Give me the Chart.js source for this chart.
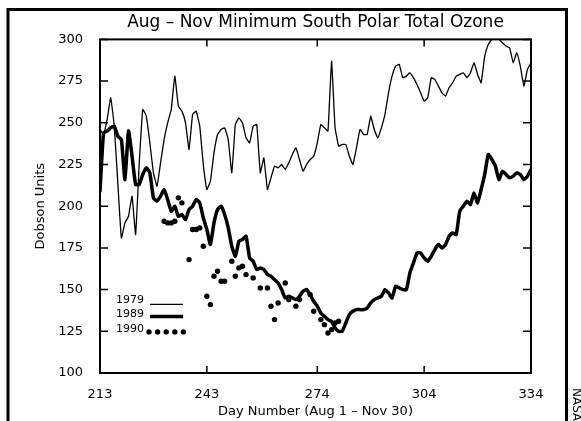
<!DOCTYPE html>
<html>
<head>
<meta charset="utf-8">
<script src="https://cdn.jsdelivr.net/npm/chart.js@4.4.1/dist/chart.umd.min.js"></script>
<style>
  html, body { margin: 0; padding: 0; background: #fff; }
</style>
</head>
<body>
<canvas id="ozone" width="581" height="421"></canvas>
<script>
var days = [
  213, 214, 215, 216, 217, 218, 219, 220, 221, 222, 223, 224, 225, 226, 227, 228, 229, 230, 231, 232,
  233, 234, 235, 236, 237, 238, 239, 240, 241, 242, 243, 244, 245, 246, 247, 248, 249, 250, 251, 252,
  253, 254, 255, 256, 257, 258, 259, 260, 261, 262, 263, 264, 265, 266, 267, 268, 269, 270, 271, 272,
  273, 274, 275, 276, 277, 278, 279, 280, 281, 282, 283, 284, 285, 286, 287, 288, 289, 290, 291, 292,
  293, 294, 295, 296, 297, 298, 299, 300, 301, 302, 303, 304, 305, 306, 307, 308, 309, 310, 311, 312,
  313, 314, 315, 316, 317, 318, 319, 320, 321, 322, 323, 324, 325, 326, 327, 328, 329, 330, 331, 332,
  333, 334
];

var ozone1979 = [
  246, 243, 252, 265, 248, 214, 181, 190, 194, 206, 183, 225, 258, 254, 238, 220, 212, 226, 240, 250,
  258, 278, 260, 257, 250, 234, 255, 257, 248, 225, 210, 215, 232, 243, 246, 247, 240, 220, 249, 253,
  250, 241, 238, 248, 249, 220, 229, 210, 217, 224, 223, 225, 222, 226, 231, 235, 228, 221, 225, 228,
  230, 238, 249, 247, 245, 287, 247, 236, 237, 237, 230, 225, 235, 246, 243, 243, 254, 246, 241, 247,
  255, 268, 278, 284, 285, 277, 278, 280, 277, 273, 268, 263, 265, 277, 276, 272, 268, 266, 271, 274,
  278, 279, 280, 277, 280, 286, 279, 274, 290, 297, 300, 300, 300, 298, 296, 295, 286, 292, 284, 272,
  282, 286
];

var ozone1989 = [
  209, 244, 245, 247, 248, 242, 240, 216, 245, 230, 213, 213, 219, 223, 220, 205, 203, 206, 210, 204,
  197, 200, 194, 195, 192, 198, 200, 204, 202, 193, 186, 177, 190, 198, 200, 195, 187, 176, 170, 179,
  180, 182, 169, 167, 162, 163, 162, 159, 158, 156, 154, 150, 145, 146, 145, 144, 146, 149, 150, 147,
  143, 140, 136, 134, 132, 131, 127, 125, 125, 130, 135, 137, 138, 138, 138, 139, 142, 144, 145, 146,
  150, 148, 145, 152, 151, 150, 150, 160, 166, 172, 172, 169, 167, 170, 174, 177, 175, 177, 182, 184,
  183, 197, 200, 203, 201, 208, 202, 210, 219, 231, 228, 224, 216, 221, 219, 217, 218, 220, 219, 216,
  218, 222
];

var days1990 = [231, 232, 233, 234, 235, 236, 238, 239, 240, 241, 242, 243, 244, 245, 246, 247, 248, 250, 251, 252,
  253, 254, 256, 258, 260, 261, 262, 263, 265, 266, 268, 269, 272, 273, 275, 276, 277, 278, 279, 280];
var ozone1990 = [191, 190, 190, 191, 205, 202, 168, 186, 186, 187, 176, 146, 141, 158, 161, 155, 155, 167, 158, 163,
  164, 159, 157, 151, 151, 140, 132, 142, 154, 144, 140, 144, 147, 137, 132, 129, 124, 126, 130, 131];

var xTickDays = [213, 243, 274, 304, 334];
var seriesNames = ['1979', '1989', '1990'];

function pairs(xs, ys) {
  return xs.map(function(d, i) { return { x: d, y: ys[i] }; });
}

var fontFamily = '"DejaVu Sans", sans-serif';

// outer frame and the cut off NASA credit
var framePlugin = {
  id: 'frame',
  beforeDraw: function(chart) {
    var ctx = chart.ctx;
    ctx.save();
    ctx.fillStyle = '#fff';
    ctx.fillRect(0, 0, chart.width, chart.height);
    ctx.strokeStyle = '#000';
    ctx.lineWidth = 3;
    ctx.beginPath();
    ctx.moveTo(8, 430);
    ctx.lineTo(8, 9.5);
    ctx.lineTo(566.5, 9.5);
    ctx.lineTo(566.5, 430);
    ctx.stroke();
    ctx.translate(573, 388);
    ctx.rotate(Math.PI / 2);
    ctx.fillStyle = '#000';
    ctx.font = '12px ' + fontFamily;
    ctx.fillText('NASA', 0, 0);
    ctx.restore();
  }
};

// box round the plot with ticks pointing inwards on all four sides
var boxPlugin = {
  id: 'box',
  afterDatasetsDraw: function(chart) {
    var a = chart.chartArea, ctx = chart.ctx;
    var xs = chart.scales.x, ys = chart.scales.y;
    ctx.save();
    ctx.strokeStyle = '#000';
    ctx.lineWidth = 2;
    ctx.strokeRect(a.left, a.top, a.right - a.left, a.bottom - a.top);
    ctx.lineWidth = 1.5;
    ctx.beginPath();
    xs.ticks.forEach(function(t) {
      var px = xs.getPixelForValue(t.value);
      ctx.moveTo(px, a.bottom); ctx.lineTo(px, a.bottom - 7);
      ctx.moveTo(px, a.top); ctx.lineTo(px, a.top + 7);
    });
    ys.ticks.forEach(function(t) {
      var py = ys.getPixelForValue(t.value);
      ctx.moveTo(a.left, py); ctx.lineTo(a.left + 8, py);
      ctx.moveTo(a.right, py); ctx.lineTo(a.right - 8, py);
    });
    ctx.stroke();

    // key in the lower left corner
    var lx = a.left + 16, sx = a.left + 50, sw = 33;
    var rows = [a.top + 261, a.top + 275, a.top + 290];
    ctx.fillStyle = '#000';
    ctx.font = '11px ' + fontFamily;
    ctx.textBaseline = 'middle';
    seriesNames.forEach(function(name, i) {
      ctx.fillText(name, lx, rows[i]);
    });
    ctx.beginPath();
    ctx.lineWidth = 1.2;
    ctx.moveTo(sx, rows[0] + 4); ctx.lineTo(sx + sw, rows[0] + 4);
    ctx.stroke();
    ctx.beginPath();
    ctx.lineWidth = 3.5;
    ctx.moveTo(sx, rows[1] + 2); ctx.lineTo(sx + sw, rows[1] + 2);
    ctx.stroke();
    for (var k = 0; k < 5; k++) {
      ctx.beginPath();
      ctx.arc(sx - 1 + k * 8.6, rows[2] + 2.5, 2.7, 0, Math.PI * 2);
      ctx.fill();
    }
    ctx.restore();
  }
};

var config = {
  type: 'line',
  data: {
    datasets: [
      {
        label: seriesNames[2],
        data: pairs(days1990, ozone1990),
        showLine: false,
        pointRadius: 2.7,
        pointBackgroundColor: '#000',
        pointBorderWidth: 0,
        order: 0
      },
      {
        label: seriesNames[1],
        data: pairs(days, ozone1989),
        borderColor: '#000',
        borderWidth: 3.5,
        borderJoinStyle: 'round',
        borderCapStyle: 'round',
        pointRadius: 0,
        tension: 0.15,
        order: 1
      },
      {
        label: seriesNames[0],
        data: pairs(days, ozone1979),
        borderColor: '#000',
        borderWidth: 1.3,
        borderJoinStyle: 'round',
        pointRadius: 0,
        tension: 0.1,
        order: 2
      }
    ]
  },
  options: {
    responsive: false,
    animation: false,
    layout: { padding: { left: 0, right: 50, top: 0, bottom: 0 } },
    plugins: {
      legend: { display: false },
      tooltip: { enabled: false },
      title: {
        display: true,
        fullSize: false,
        text: 'Aug – Nov Minimum South Polar Total Ozone',
        color: '#000',
        font: { family: fontFamily, size: 17, weight: 'normal' },
        padding: { top: 12, bottom: 7 }
      }
    },
    scales: {
      x: {
        type: 'linear',
        min: 213,
        max: 334,
        afterBuildTicks: function(s) {
          s.ticks = xTickDays.map(function(v) { return { value: v }; });
        },
        afterFit: function(s) { s.height = 48; },
        grid: { display: false },
        border: { display: false },
        ticks: {
          color: '#000',
          font: { family: fontFamily, size: 13 },
          padding: 6,
          maxRotation: 0,
          autoSkip: false
        },
        title: {
          display: true,
          text: 'Day Number (Aug 1 – Nov 30)',
          color: '#000',
          font: { family: fontFamily, size: 13 },
          padding: { top: 0, bottom: 2 }
        }
      },
      y: {
        min: 100,
        max: 300,
        afterFit: function(s) { s.width = 100; },
        grid: { display: false },
        border: { display: false },
        ticks: {
          stepSize: 25,
          color: '#000',
          font: { family: fontFamily, size: 13 },
          padding: 9
        },
        title: {
          display: true,
          text: 'Dobson Units',
          color: '#000',
          font: { family: fontFamily, size: 13 },
          padding: { top: 33, bottom: 0 }
        }
      }
    }
  },
  plugins: [framePlugin, boxPlugin]
};

var ozoneChart = new Chart(document.getElementById('ozone'), config);
</script>
</body>
</html>
